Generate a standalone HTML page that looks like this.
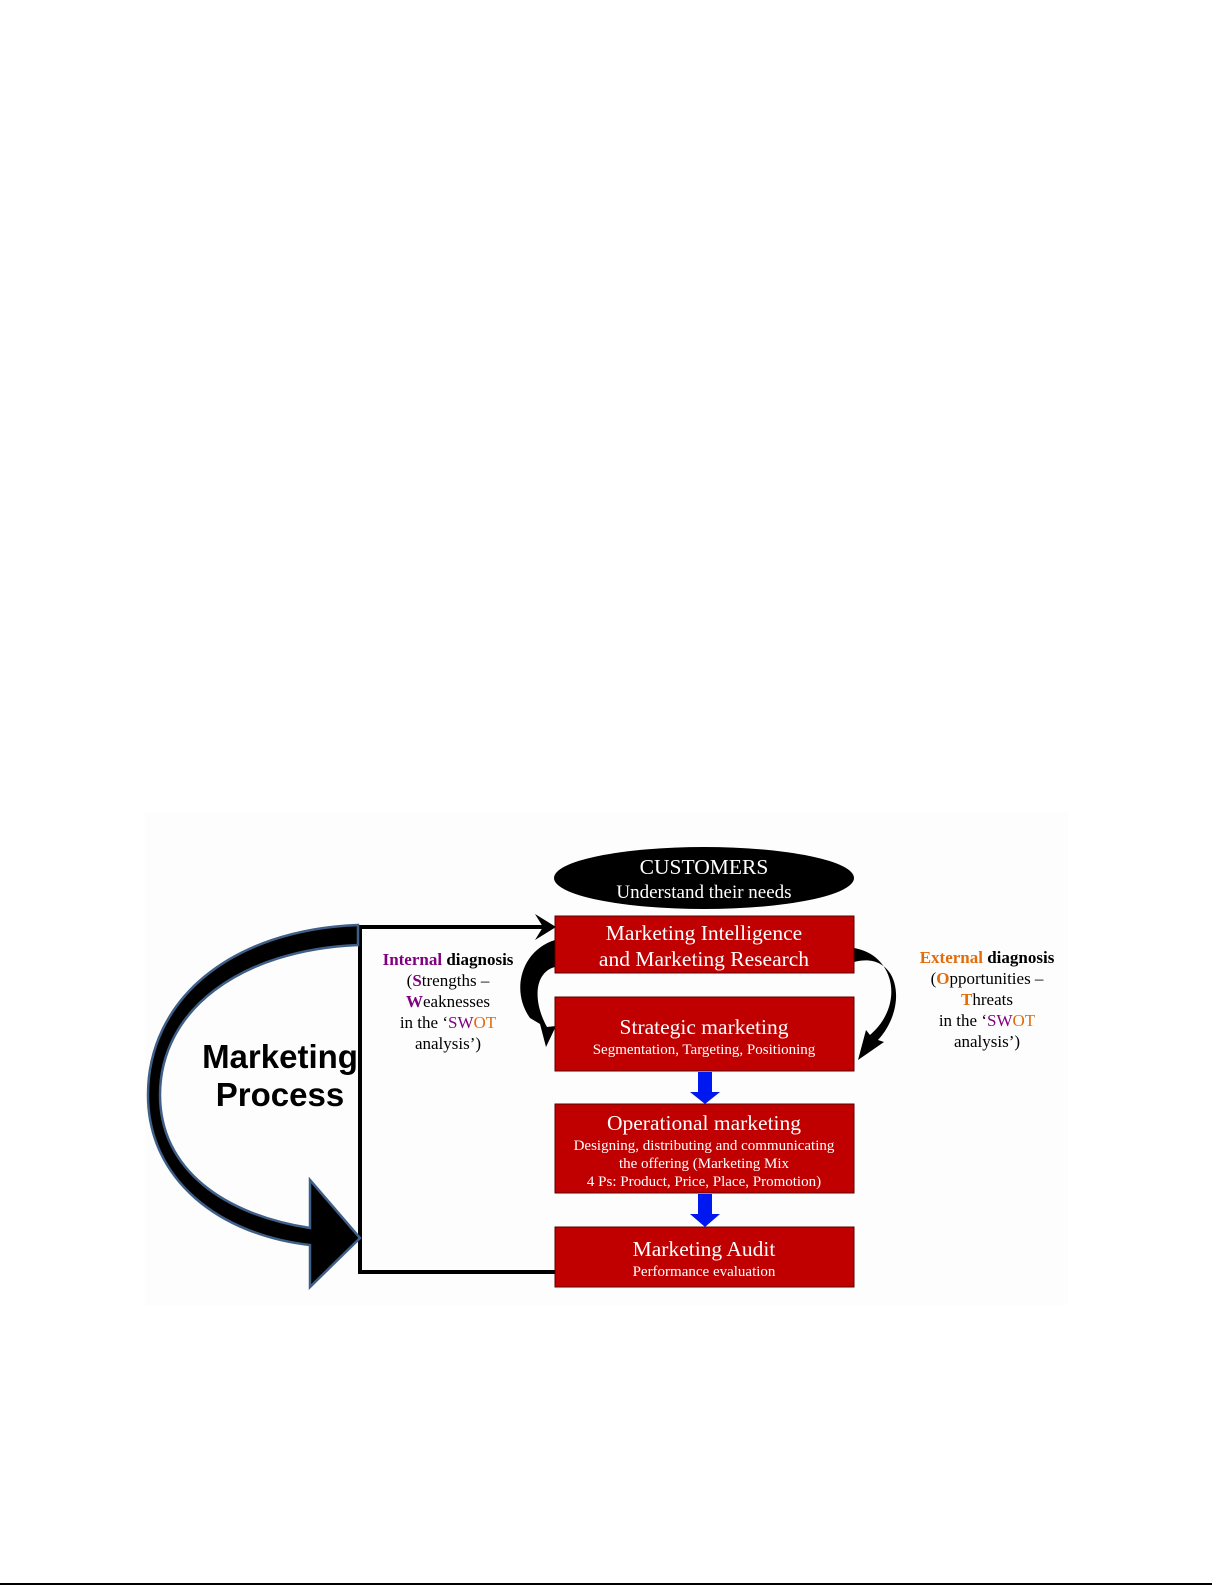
<!DOCTYPE html>
<html><head><meta charset="utf-8"><style>
html,body{margin:0;padding:0;background:#fff;}
svg{display:block;}
.s{font-family:"Liberation Serif",serif;}
</style></head><body>
<svg width="1225" height="1585" viewBox="0 0 1225 1585" xmlns="http://www.w3.org/2000/svg">
<rect x="145" y="812" width="923" height="493" fill="#fdfdfd"/>
<rect x="0" y="1583" width="1212" height="2" fill="#000"/>
<polyline points="555,1272 360,1272 360,927 545,927" fill="none" stroke="#000" stroke-width="4"/>
<path d="M535,914 L556,927 L535,940 L543,927 Z" fill="#000"/>
<path d="M358,925 C230,930 148,1000 148,1095 C148,1180 220,1235 310,1245 L310,1287 L360,1238 L310,1180 L310,1228 C225,1215 160,1170 160,1095 C160,1010 240,950 358,945 Z" fill="#000" stroke="#3f5f86" stroke-width="2.5"/>
<text x="280" y="1068" text-anchor="middle" font-family="Liberation Sans,sans-serif" font-weight="bold" font-size="33" fill="#000">Marketing</text>
<text x="280" y="1106" text-anchor="middle" font-family="Liberation Sans,sans-serif" font-weight="bold" font-size="33" fill="#000">Process</text>
<ellipse cx="704" cy="878" rx="150" ry="31" fill="#000"/>
<text class="s" x="704" y="874" text-anchor="middle" font-size="21.5" fill="#fff">CUSTOMERS</text>
<text class="s" x="704" y="898" text-anchor="middle" font-size="19" fill="#fff">Understand their needs</text>
<path d="M555,940 C522,950 510,990 530,1018 L540,1024 L546,1047 L556,1026 L547,1027 C532,1000 535,972 555,967 Z" fill="#000"/>
<path d="M854,948 C895,955 905,1005 870,1035 L866,1030 L858,1060 L884,1042 L878,1040 C910,1005 898,950 854,962 Z" fill="#000"/>
<g fill="#c00000" stroke="#5a0000" stroke-width="1">
<rect x="555" y="916" width="299" height="57"/>
<rect x="555" y="997" width="299" height="74"/>
<rect x="555" y="1104" width="299" height="89"/>
<rect x="555" y="1227" width="299" height="60"/>
</g>
<g class="s" fill="#fff" text-anchor="middle">
<text x="704" y="940" font-size="21.5">Marketing Intelligence</text>
<text x="704" y="966" font-size="21.5">and Marketing Research</text>
<text x="704" y="1034" font-size="21.5">Strategic marketing</text>
<text x="704" y="1054" font-size="15">Segmentation, Targeting, Positioning</text>
<text x="704" y="1130" font-size="21.5">Operational marketing</text>
<text x="704" y="1150" font-size="15">Designing, distributing and communicating</text>
<text x="704" y="1168" font-size="15">the offering (Marketing Mix</text>
<text x="704" y="1186" font-size="15">4 Ps: Product, Price, Place, Promotion)</text>
<text x="704" y="1256" font-size="21.5">Marketing Audit</text>
<text x="704" y="1276" font-size="15">Performance evaluation</text>
</g>
<path d="M698,1072 H712 V1092 H720 L705,1104 L690,1092 H698 Z" fill="#0018f0"/>
<path d="M698,1194 H712 V1214 H720 L705,1227 L690,1214 H698 Z" fill="#0018f0"/>
<g class="s" font-size="17" text-anchor="middle" fill="#000">
<text x="448" y="965"><tspan font-weight="bold" fill="#800080">Internal</tspan> <tspan font-weight="bold">diagnosis</tspan></text>
<text x="448" y="986">(<tspan font-weight="bold" fill="#800080">S</tspan>trengths –</text>
<text x="448" y="1007"><tspan font-weight="bold" fill="#800080">W</tspan>eaknesses</text>
<text x="448" y="1028">in the ‘<tspan fill="#800080">SW</tspan><tspan fill="#e36c0a">OT</tspan></text>
<text x="448" y="1049">analysis’)</text>
<text x="987" y="963"><tspan font-weight="bold" fill="#e36c0a">External</tspan> <tspan font-weight="bold">diagnosis</tspan></text>
<text x="987" y="984">(<tspan font-weight="bold" fill="#e36c0a">O</tspan>pportunities –</text>
<text x="987" y="1005"><tspan font-weight="bold" fill="#e36c0a">T</tspan>hreats</text>
<text x="987" y="1026">in the ‘<tspan fill="#800080">SW</tspan><tspan fill="#e36c0a">OT</tspan></text>
<text x="987" y="1047">analysis’)</text>
</g>
</svg>
</body></html>
